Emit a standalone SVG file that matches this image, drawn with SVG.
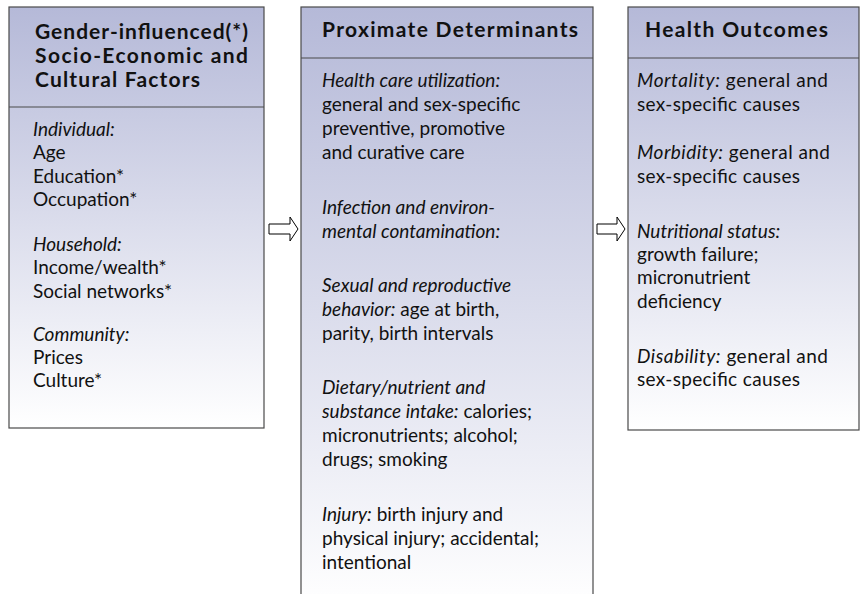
<svg xmlns="http://www.w3.org/2000/svg" width="861" height="594" viewBox="0 0 861 594">
<style>
  .box { stroke: #4a4a4a; stroke-width: 1.2; fill: url(#grad); }
  .div { stroke: #4a4a4a; stroke-width: 1.2; }
  .arrow { fill: #ffffff; stroke: #000000; stroke-width: 1; }
  text { font-family: Lato, "Liberation Sans", sans-serif; font-size: 19px; fill: #111111; }
  .h { font-weight: bold; font-size: 21px; }
  .i { font-style: italic; }
</style>
<defs>
  <linearGradient id="grad" x1="0" y1="0" x2="0" y2="1">
    <stop offset="0" stop-color="#b5b9d8"/>
    <stop offset="1" stop-color="#ffffff"/>
  </linearGradient>
</defs>
<rect width="861" height="594" fill="#ffffff"/>

<g id="node-socioeconomic">
  <rect class="box" x="9" y="7" width="255" height="421"/>
  <line class="div" x1="9" y1="107" x2="264" y2="107"/>
  <text class="h" x="35" y="39" textLength="213">Gender-influenced(*)</text>
  <text class="h" x="35" y="63" textLength="213">Socio-Economic and</text>
  <text class="h" x="35" y="87" textLength="165">Cultural Factors</text>
  <text class="i" x="33" y="136">Individual:</text>
  <text x="33" y="159">Age</text>
  <text x="33" y="183">Education*</text>
  <text x="33" y="206">Occupation*</text>
  <text class="i" x="33" y="251">Household:</text>
  <text x="33" y="274">Income/wealth*</text>
  <text x="33" y="298">Social networks*</text>
  <text class="i" x="33" y="341">Community:</text>
  <text x="33" y="364">Prices</text>
  <text x="33" y="387">Culture*</text>
</g>

<g id="node-proximate">
  <rect class="box" x="301" y="7" width="292" height="600"/>
  <line class="div" x1="301" y1="58" x2="593" y2="58"/>
  <text class="h" x="322" y="37" textLength="256">Proximate Determinants</text>
  <text class="i" x="322" y="87">Health care utilization:</text>
  <text x="322" y="111">general and sex-specific</text>
  <text x="322" y="135">preventive, promotive</text>
  <text x="322" y="159">and curative care</text>
  <text class="i" x="322" y="214">Infection and environ-</text>
  <text class="i" x="322" y="238">mental contamination:</text>
  <text x="322" y="292"><tspan class="i">Sexual and reproductive</tspan></text>
  <text x="322" y="316"><tspan class="i">behavior:</tspan> age at birth,</text>
  <text x="322" y="340">parity, birth intervals</text>
  <text x="322" y="394"><tspan class="i">Dietary/nutrient and</tspan></text>
  <text x="322" y="418"><tspan class="i">substance intake:</tspan> calories;</text>
  <text x="322" y="442">micronutrients; alcohol;</text>
  <text x="322" y="466">drugs; smoking</text>
  <text x="322" y="521"><tspan class="i">Injury:</tspan> birth injury and</text>
  <text x="322" y="545">physical injury; accidental;</text>
  <text x="322" y="569">intentional</text>
</g>

<g id="node-outcomes">
  <rect class="box" x="628" y="7" width="231" height="423"/>
  <line class="div" x1="628" y1="58" x2="859" y2="58"/>
  <text class="h" x="645" y="37" textLength="183">Health Outcomes</text>
  <text x="637" y="87" textLength="191"><tspan class="i">Mortality:</tspan> general and</text>
  <text x="637" y="111" textLength="163">sex-specific causes</text>
  <text x="637" y="159" textLength="193"><tspan class="i">Morbidity:</tspan> general and</text>
  <text x="637" y="183" textLength="163">sex-specific causes</text>
  <text class="i" x="637" y="238">Nutritional status:</text>
  <text x="637" y="261">growth failure;</text>
  <text x="637" y="284">micronutrient</text>
  <text x="637" y="308">deficiency</text>
  <text x="637" y="363" textLength="191"><tspan class="i">Disability:</tspan> general and</text>
  <text x="637" y="386" textLength="163">sex-specific causes</text>
</g>

<g id="connectors">
  <path id="arrow-1" class="arrow" d="M269,224 H290 V217 L298,229 L290,241 V234 H269 Z"/>
  <path id="arrow-2" class="arrow" d="M597,224 H617 V217 L625,229 L617,241 V234 H597 Z"/>
</g>
</svg>
